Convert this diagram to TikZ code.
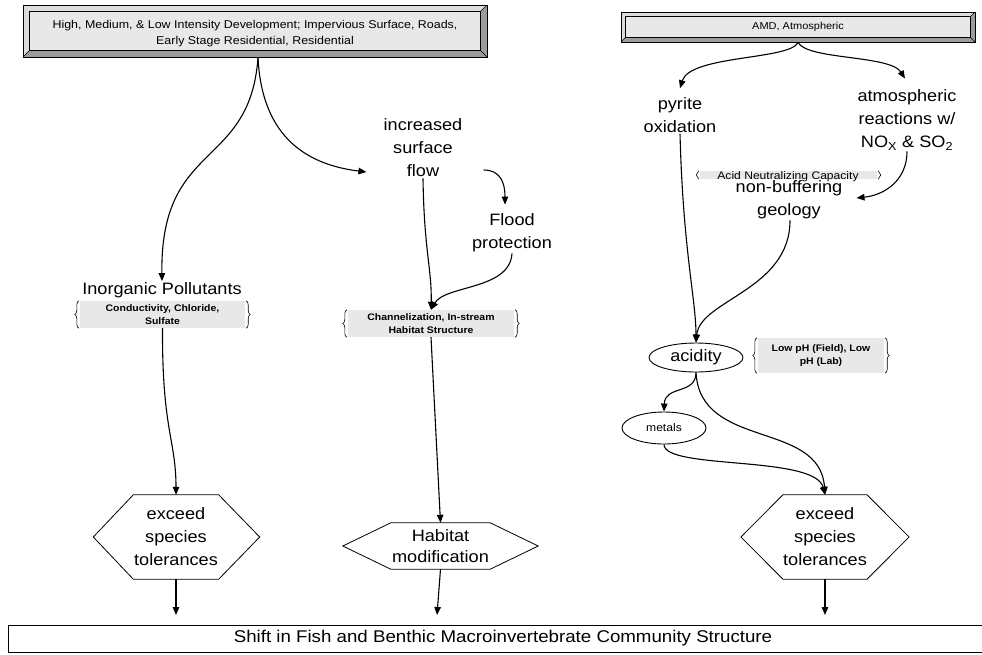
\documentclass[tikz,border=0pt]{standalone}
\usepackage{fontspec}
\setmainfont[FakeStretch=1.1]{Liberation Sans}
\usetikzlibrary{calc,arrows.meta,shapes.geometric,decorations.pathreplacing}
\definecolor{boxgray}{HTML}{E8E8E8}
\definecolor{bevdark}{HTML}{9C9C9C}
\definecolor{bevlight}{HTML}{DCDCDC}
\newcommand\bracepair[2][4pt]{%
  \draw[bracestyle={#1}] ([xshift=-1pt]#2.south west) -- ([xshift=-1pt]#2.north west);
  \draw[bracestyle={#1}] ([xshift=1pt]#2.north east) -- ([xshift=1pt]#2.south east);}
\begin{document}
\begin{tikzpicture}[x=1pt,y=-1pt,
  conn/.style={line width=1.1pt, -{Triangle[length=8pt,width=6.5pt]}},
  big/.style={font=\fontsize{16.5}{23}\selectfont, align=center, inner sep=1pt},
  bracestyle/.style={decorate, decoration={brace, amplitude=#1}, line width=0.6pt},
  bracebox/.style={fill=boxgray, inner sep=0pt, align=center, font=\fontsize{9.5}{13}\selectfont\bfseries},
  hexline/.style={line width=0.8pt},
  bevel/.style={draw, line width=1pt, inner sep=0pt, align=center, path picture={
     \fill[bevdark] (path picture bounding box.north west) rectangle (path picture bounding box.south east);
     \filldraw[fill=bevlight, draw=black, line width=0.5pt] (path picture bounding box.north west) -- (path picture bounding box.north east) -- ($(path picture bounding box.north east)+(-#1,#1)$) -- ($(path picture bounding box.south west)+(#1,-#1)$) -- (path picture bounding box.south west) -- cycle;
     \filldraw[fill=boxgray, draw=black, line width=0.5pt] ($(path picture bounding box.north west)+(#1,#1)$) rectangle ($(path picture bounding box.south east)+(-#1,-#1)$);
     \draw[line width=0.5pt] ($(path picture bounding box.south east)+(-#1,-#1)$) -- (path picture bounding box.south east);
  }}]
\useasboundingbox[fill=white] (0,0) rectangle (982,654);

% sources
\node[bevel=6.5, minimum width=464, minimum height=52, font=\fontsize{11.3}{15.5}\selectfont] (src1) at (255,31)
  {\raisebox{-2.5pt}[\height][\depth]{\begin{tabular}{@{}c@{}}High, Medium, \& Low Intensity Development; Impervious Surface, Roads,\\Early Stage Residential, Residential\end{tabular}}};
\node[bevel=4.5, minimum width=354, minimum height=30, font=\fontsize{10}{12}\selectfont] (src2) at (798,27) {AMD, Atmospheric};

% left column
\node[big] (inorg) at (162,290) {Inorganic Pollutants};
\node[bracebox, minimum width=165, minimum height=27] (inorgB) at (162.5,314.5) {Conductivity, Chloride,\\Sulfate};
\bracepair{inorgB}
\node[big, minimum width=85, minimum height=84, inner sep=0pt] (hexA) at (176,537) {exceed\\species\\tolerances};
\draw[hexline] (hexA.north west) -- (hexA.north east) -- ($(hexA.east)+(41,0)$) -- (hexA.south east) -- (hexA.south west) -- ($(hexA.west)+(-40,0)$) -- cycle;

% middle column
\node[big] (sflow) at (423,148) {increased\\surface\\flow};
\node[big] (flood) at (512,233) {Flood\\protection};
\node[bracebox, minimum width=166, minimum height=27] (chanB) at (431,323.5) {Channelization, In-stream\\Habitat Structure};
\bracepair{chanB}
\node[big, font=\fontsize{16.5}{21.5}\selectfont, minimum width=99, minimum height=46, inner sep=0pt] (hab) at (440.5,546) {Habitat\\modification};
\draw[hexline] (hab.north west) -- (hab.north east) -- ($(hab.east)+(48,0)$) -- (hab.south east) -- (hab.south west) -- ($(hab.west)+(-48,0)$) -- cycle;

% right column
\node[big] (pyrite) at (680,115) {pyrite\\oxidation};
\node[big] (atmos) at (907,120) {atmospheric\\reactions w/\\NO\textsubscript{X} \& SO\textsubscript{2}};
\node[fill=boxgray, minimum width=177, minimum height=8, inner sep=0pt] (anc) at (788.5,175) {};
\bracepair[2.5pt]{anc}
\node[font=\fontsize{11}{13}\selectfont, inner sep=0pt, anchor=base] (ancT) at (788,179) {Acid Neutralizing Capacity};
\node[big] (nonbuff) at (789,200) {non-buffering\\geology};
\node[ellipse, draw, line width=0.9pt, minimum width=94, minimum height=29, inner sep=0pt, font=\fontsize{16.5}{20}\selectfont] (acid) at (696,357.5) {acidity};
\node[bracebox, minimum width=126, minimum height=35] (lowph) at (821,355.5) {Low pH (Field), Low\\pH (Lab)};
\bracepair{lowph}
\node[ellipse, draw, line width=0.9pt, minimum width=84, minimum height=32, inner sep=0pt, font=\fontsize{11}{13}\selectfont] (metals) at (664,428) {metals};
\node[big, minimum width=83, minimum height=84, inner sep=0pt] (hexC) at (825,537) {exceed\\species\\tolerances};
\draw[hexline] (hexC.north west) -- (hexC.north east) -- ($(hexC.east)+(42,0)$) -- (hexC.south east) -- (hexC.south west) -- ($(hexC.west)+(-42,0)$) -- cycle;

% bottom
\node[draw, line width=1pt, minimum width=990, minimum height=27, inner sep=0pt, font=\fontsize{17}{19}\selectfont] (shift) at (503,638.5)
  {Shift in Fish and Benthic Macroinvertebrate Community Structure};
\coordinate (tA) at (176,615);
\coordinate (tB) at (437,615);
\coordinate (tC) at (825,615);

% connectors left/middle
\draw[conn] ([xshift=3pt]src1.south) .. controls (250,170) and (160,140) .. (inorg.north);
\draw[conn] ([xshift=3pt]src1.south) .. controls (262,140) and (310,165) .. ([shift={(-16,24)}]sflow.west);
\draw[conn] ([shift={(20,22)}]sflow.east) .. controls (500,170) and (505,182) .. ([xshift=-7pt,yshift=8pt]flood.north);
\draw[conn] (sflow.south) .. controls (424,250) and (432,270) .. (chanB.north);
\draw[conn] (flood.south) .. controls (510,290) and (445,285) .. (chanB.north);
\draw[conn] (chanB.south) -- (hab.north);
\draw[conn] (hab.south) -- (tB);
\draw[conn] (inorgB.south) .. controls (162,430) and (176,440) .. (hexA.north);
\draw[conn] (hexA.south) -- (tA);

% connectors right
\draw[conn] (src2.south) .. controls (790,60) and (690,55) .. ([yshift=8pt]pyrite.north);
\draw[conn] (src2.south) .. controls (808,60) and (890,55) .. ([xshift=-2pt,yshift=10pt]atmos.north);
\draw[conn] (atmos.south) .. controls (907,180) and (885,195) .. ([xshift=13pt,yshift=2pt]nonbuff.east);
\draw[conn] (pyrite.south) .. controls (683,250) and (696,300) .. (acid.north);
\draw[conn] ([xshift=1pt]nonbuff.south) .. controls (790,290) and (700,300) .. (acid.north);
\draw[conn] (acid.south) .. controls (696,395) and (665,385) .. (metals.north);
\draw[conn] (acid.south) .. controls (700,450) and (820,420) .. (hexC.north);
\draw[conn] (metals.south) .. controls (664,470) and (815,455) .. (hexC.north);
\draw[conn] (hexC.south) -- (tC);
\end{tikzpicture}
\end{document}
